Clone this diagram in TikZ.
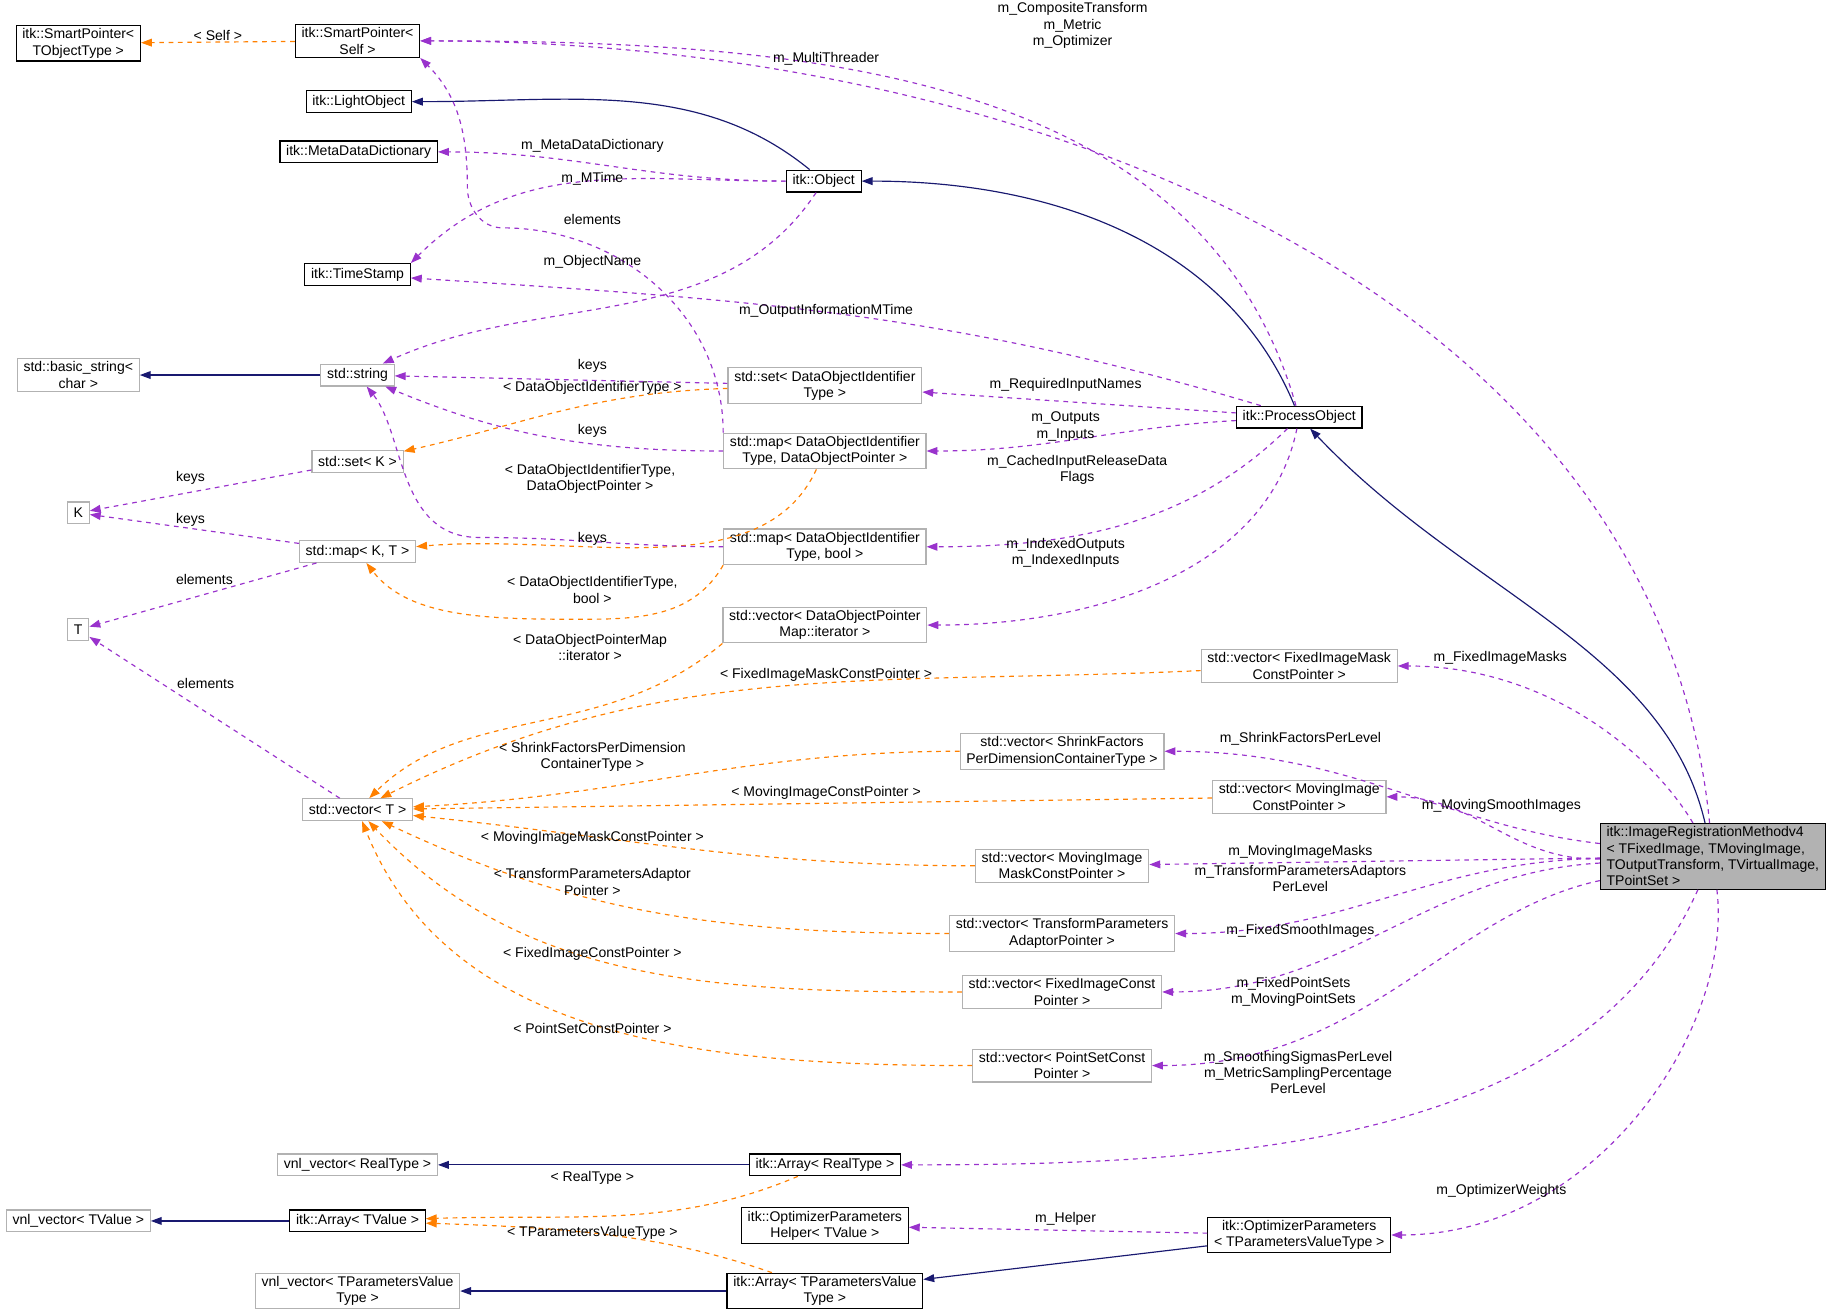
\documentclass[tikz,border=0pt]{standalone}
\usepackage{fontspec}
\setmainfont{Liberation Sans}
\usetikzlibrary{arrows.meta}
\tikzset{every picture/.style={line width=0.75pt}}
\tikzset{
  cls/.style={draw=black,fill=white,inner xsep=4pt,inner ysep=2pt,minimum height=14pt,align=center,font=\fontsize{9}{10.5}\selectfont},
  ext/.style={cls,draw=black!30},
  inh/.style={draw={rgb,255:red,25;green,25;blue,112},-{Triangle[length=7pt,width=5pt]}},
  tpl/.style={draw=orange,dashed,-{Triangle[length=7pt,width=5pt]}},
  use/.style={draw={rgb,255:red,153;green,50;blue,204},dashed,-{Triangle[length=7pt,width=5pt]}},
  lbl/.style={inner sep=0.75pt,align=center,font=\fontsize{9}{10.5}\selectfont}
}
\begin{document}
\begin{tikzpicture}[x=0.75pt,y=0.75pt,yscale=-1,xscale=1]
\useasboundingbox (0,0) rectangle (1568,1125);

% classes
\node[cls] (spobj) at (67,37) {itk::SmartPointer<\\TObjectType >};
\node[cls] (spself) at (306,35) {itk::SmartPointer<\\Self >};
\node[cls] (lightobj) at (307,87) {itk::LightObject};
\node[cls] (metadict) at (307,130) {itk::MetaDataDictionary};
\node[cls] (object) at (705,155) {itk::Object};
\node[cls] (timestamp) at (306,235) {itk::TimeStamp};
\node[ext] (basicstr) at (67,321) {std::basic\_string<\\char >};
\node[ext] (string) at (306,321) {std::string};
\node[ext] (setdoi) at (706,330) {std::set< DataObjectIdentifier\\Type >};
\node[cls] (procobj) at (1112,357) {itk::ProcessObject};
\node[ext] (setK) at (306,395) {std::set< K >};
\node[ext] (mapdoi) at (706,386) {std::map< DataObjectIdentifier\\Type, DataObjectPointer >};
\node[ext] (K) at (67,439) {K};
\node[ext] (mapKT) at (306,472) {std::map< K, T >};
\node[ext] (mapdoib) at (706,468) {std::map< DataObjectIdentifier\\Type, bool >};
\node[ext] (T) at (67,539) {T};
\node[ext] (vecdop) at (706,535) {std::vector< DataObjectPointer\\Map::iterator >};
\node[ext] (vecfimc) at (1112,570) {std::vector< FixedImageMask\\ConstPointer >};
\node[ext] (vecT) at (306,693) {std::vector< T >};
\node[ext] (vecsf) at (909,643) {std::vector< ShrinkFactors\\PerDimensionContainerType >};
\node[ext] (vecmic) at (1112,682) {std::vector< MovingImage\\ConstPointer >};
\node[ext] (vecmimc) at (909,741) {std::vector< MovingImage\\MaskConstPointer >};
\node[ext] (vectpa) at (909,799) {std::vector< TransformParameters\\AdaptorPointer >};
\node[ext] (vecfic) at (909,849) {std::vector< FixedImageConst\\Pointer >};
\node[ext] (vecps) at (909,912) {std::vector< PointSetConst\\Pointer >};
\node[cls,fill=black!30,align=left] (regmethod) at (1466,733) {itk::ImageRegistrationMethodv4\\< TFixedImage, TMovingImage,\\ TOutputTransform, TVirtualImage,\\ TPointSet >};
\node[ext] (vnlreal) at (306,997) {vnl\_vector< RealType >};
\node[cls] (arrreal) at (706,997) {itk::Array< RealType >};
\node[ext] (vnltv) at (67,1045) {vnl\_vector< TValue >};
\node[cls] (arrtv) at (306,1045) {itk::Array< TValue >};
\node[cls] (ophelp) at (706,1049) {itk::OptimizerParameters\\Helper< TValue >};
\node[cls] (opparam) at (1112,1057) {itk::OptimizerParameters\\< TParametersValueType >};
\node[ext] (vnltpv) at (306,1105) {vnl\_vector< TParametersValue\\Type >};
\node[cls] (arrtpv) at (706,1105) {itk::Array< TParametersValue\\Type >};

% inheritance
\draw[inh] (object) to[out=-135,in=0] (lightobj);
\draw[inh] (procobj) to[out=-110,in=0] (object);
\draw[inh] (regmethod) to[out=-100,in=50] (procobj);
\draw[inh] (string) -- (basicstr);
\draw[inh] (arrreal) -- (vnlreal);
\draw[inh] (arrtv) -- (vnltv);
\draw[inh] (arrtpv) -- (vnltpv);
\draw[inh] (opparam) -- (arrtpv);

% template arguments
\draw[tpl] (spself) -- node[lbl,above] (lself) {< Self >} (spobj);
\draw[tpl] (setdoi) to[out=170,in=-20] (setK);
\draw[tpl] (mapdoi) to[out=110,in=-10] (mapKT);
\coordinate (bdip) at (500,530);
\draw[tpl] (mapdoib.south west) to[out=120,in=0] (bdip) to[out=180,in=60] (mapKT);
\draw[tpl] (vecdop.south west) to[out=140,in=-50] (vecT);
\draw[tpl] (vecfimc) to[out=175,in=-30] (vecT);
\draw[tpl] (vecsf) to[out=180,in=-5] (vecT);
\draw[tpl] (vecmic) -- (vecT);
\draw[tpl] (vecmimc) to[out=180,in=10] (vecT);
\draw[tpl] (vectpa) to[out=180,in=30] (vecT);
\draw[tpl] (vecfic) to[out=180,in=50] (vecT);
\draw[tpl] (vecps) to[out=180,in=70] (vecT);
\draw[tpl] (arrreal) to[out=150,in=-5] (arrtv);
\draw[tpl] (arrtpv) to[out=-150,in=5] (arrtv);
\node[lbl] (l1) at (507,332) {< DataObjectIdentifierType >};
\node[lbl] (l2) at (505,410) {< DataObjectIdentifierType,\\DataObjectPointer >};
\node[lbl] (l3) at (507,505) {< DataObjectIdentifierType,\\bool >};
\node[lbl] (l4) at (505,554) {< DataObjectPointerMap\\::iterator >};
\node[lbl] (l5) at (707,578) {< FixedImageMaskConstPointer >};
\node[lbl] (l6) at (507,648) {< ShrinkFactorsPerDimension\\ContainerType >};
\node[lbl] (l7) at (707,679) {< MovingImageConstPointer >};
\node[lbl] (l8) at (507,717) {< MovingImageMaskConstPointer >};
\node[lbl] (l9) at (507,755) {< TransformParametersAdaptor\\Pointer >};
\node[lbl] (l10) at (507,816) {< FixedImageConstPointer >};
\node[lbl] (l11) at (507,880) {< PointSetConstPointer >};
\node[lbl] (l12) at (507,1008) {< RealType >};
\node[lbl] (l13) at (507,1055) {< TParametersValueType >};

% usage
\draw[use] (regmethod) to[out=-95,in=0] (spself.east);
\draw[use] (procobj) to[out=-105,in=0] (spself.east);
\draw[use] (mapdoi.north west) to[out=-90,in=0] (430,195) to[out=180,in=90] (400,160) to[out=-90,in=45] (spself.south east);
\draw[use] (object) to[out=180,in=0] (metadict);
\draw[use] (object) to[out=180,in=-45] (timestamp.north east);
\draw[use] (object) to[out=120,in=-30] (string);
\draw[use] (procobj) to[out=-160,in=5] (timestamp);
\draw[use] (setdoi) -- (string);
\draw[use] (mapdoi) to[out=180,in=30] (string);
\draw[use] (mapdoib) to[out=180,in=0] (410,460) to[out=180,in=60] (string);
\draw[use] (procobj) -- (setdoi);
\draw[use] (procobj) to[out=170,in=0] (mapdoi);
\draw[use] (procobj) to[out=130,in=0] (mapdoib);
\draw[use] (procobj) to[out=100,in=0] (vecdop);
\draw[use] (setK) -- (K);
\draw[use] (mapKT) -- (K);
\draw[use] (mapKT) -- (T);
\draw[use] (vecT) -- (T);
\draw[use] (regmethod) to[out=-110,in=0] (vecfimc);
\draw[use] (regmethod) to[out=-160,in=0] (vecsf);
\draw[use] (regmethod) to[out=-170,in=0] (vecmic);
\draw[use] (regmethod) -- (vecmimc);
\draw[use] (regmethod) to[out=175,in=0] (vectpa);
\draw[use] (regmethod) to[out=165,in=0] (vecfic);
\draw[use] (regmethod) to[out=155,in=0] (vecps);
\draw[use] (regmethod) to[out=110,in=0] (arrreal);
\draw[use] (regmethod) to[out=85,in=0] (opparam);
\draw[use] (opparam) -- (ophelp);
\node[lbl] (u1) at (918,22) {m\_CompositeTransform\\m\_Metric\\m\_Optimizer};
\node[lbl] (u2) at (707,50) {m\_MultiThreader};
\node[lbl] (u3) at (507,125) {m\_MetaDataDictionary};
\node[lbl] (u4) at (507,153) {m\_MTime};
\node[lbl] (u5) at (507,188) {elements};
\node[lbl] (u6) at (507,224) {m\_ObjectName};
\node[lbl] (u7) at (707,266) {m\_OutputInformationMTime};
\node[lbl] (u8) at (507,313) {keys};
\node[lbl] (u9) at (507,369) {keys};
\node[lbl] (u10) at (507,461) {keys};
\node[lbl] (u11) at (912,329) {m\_RequiredInputNames};
\node[lbl] (u12) at (912,365) {m\_Outputs\\m\_Inputs};
\node[lbl] (u13) at (922,402) {m\_CachedInputReleaseData\\Flags};
\node[lbl] (u14) at (912,473) {m\_IndexedOutputs\\m\_IndexedInputs};
\node[lbl] (u15) at (163,409) {keys};
\node[lbl] (u16) at (163,445) {keys};
\node[lbl] (u17) at (175,496) {elements};
\node[lbl] (u18) at (176,585) {elements};
\node[lbl] (u19) at (1284,563) {m\_FixedImageMasks};
\node[lbl] (u20) at (1113,632) {m\_ShrinkFactorsPerLevel};
\node[lbl] (u21) at (1285,690) {m\_MovingSmoothImages};
\node[lbl] (u22) at (1113,729) {m\_MovingImageMasks};
\node[lbl] (u23) at (1113,752) {m\_TransformParametersAdaptors\\PerLevel};
\node[lbl] (u24) at (1113,797) {m\_FixedSmoothImages};
\node[lbl] (u25) at (1107,849) {m\_FixedPointSets\\m\_MovingPointSets};
\node[lbl] (u26) at (1111,918) {m\_SmoothingSigmasPerLevel\\m\_MetricSamplingPercentage\\PerLevel};
\node[lbl] (u27) at (1285,1019) {m\_OptimizerWeights};
\node[lbl] (u28) at (912,1043) {m\_Helper};
\end{tikzpicture}
\end{document}
